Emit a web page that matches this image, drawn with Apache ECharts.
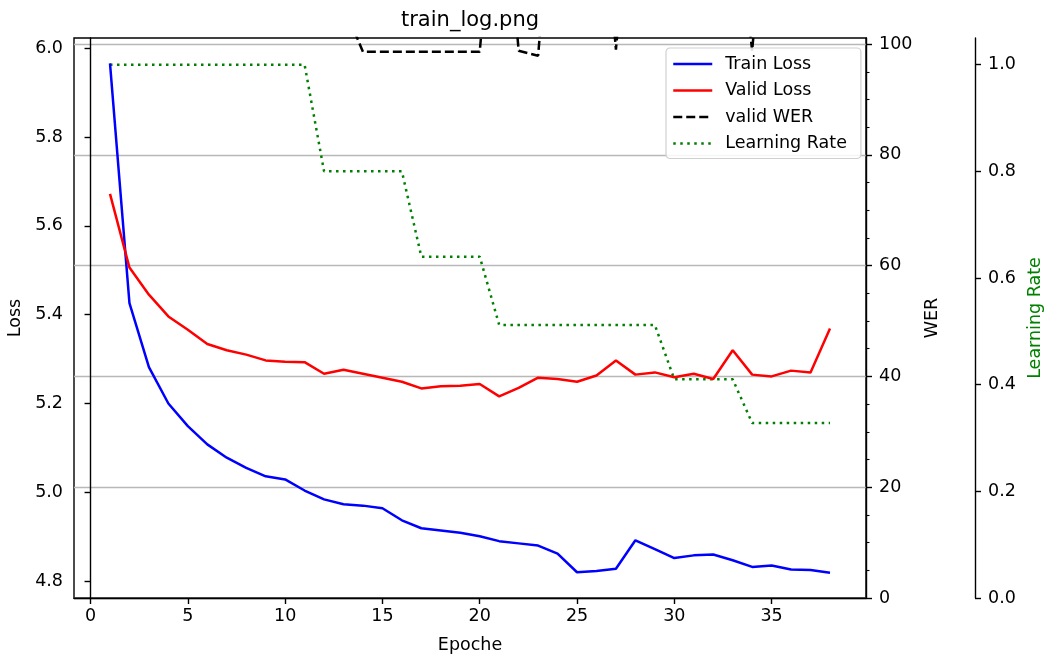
<!DOCTYPE html>
<html>
<head>
<meta charset="utf-8">
<script src="https://cdn.jsdelivr.net/npm/echarts@6/dist/echarts.min.js"></script>
<style>
  html, body { margin: 0; padding: 0; background: #fff; }
  #chart { width: 1044px; height: 657px; }
</style>
</head>
<body>
<div id="chart"></div>
<script>
// epochs on the x axis
const epochs = [1, 2, 3, 4, 5, 6, 7, 8, 9, 10, 11, 12, 13, 14, 15, 16, 17, 18, 19,
  20, 21, 22, 23, 24, 25, 26, 27, 28, 29, 30, 31, 32, 33, 34, 35, 36, 37, 38];

const trainLoss = [5.966, 5.426, 5.282, 5.200, 5.149, 5.108, 5.078, 5.055, 5.036, 5.029,
  5.004, 4.984, 4.973, 4.970, 4.964, 4.937, 4.919, 4.914, 4.909, 4.901,
  4.890, 4.885, 4.880, 4.862, 4.820, 4.823, 4.828, 4.892, 4.872, 4.852,
  4.858, 4.860, 4.847, 4.832, 4.835, 4.826, 4.825, 4.819];

const validLoss = [5.672, 5.506, 5.445, 5.396, 5.366, 5.334, 5.320, 5.310, 5.297, 5.294,
  5.293, 5.267, 5.276, 5.267, 5.258, 5.249, 5.234, 5.239, 5.240, 5.244,
  5.216, 5.235, 5.258, 5.255, 5.249, 5.263, 5.297, 5.265, 5.270, 5.259,
  5.267, 5.255, 5.320, 5.265, 5.261, 5.274, 5.270, 5.369];

// most WER points sit above the top of the plot and are clipped
const validWER = [160, 140, 128, 120, 116, 113, 111, 110, 109, 108.5,
  108, 107.5, 107, 98.6, 98.6, 98.6, 98.6, 98.6, 98.6, 98.6,
  140, 98.8, 97.9, 140, 135, 140, 99.0, 140, 135, 130,
  128, 125, 130, 98.8, 140, 135, 130, 128];

const learningRate = [1.0, 1.0, 1.0, 1.0, 1.0, 1.0, 1.0, 1.0, 1.0, 1.0,
  1.0, 0.8, 0.8, 0.8, 0.8, 0.8, 0.64, 0.64, 0.64, 0.64,
  0.512, 0.512, 0.512, 0.512, 0.512, 0.512, 0.512, 0.512, 0.512, 0.41,
  0.41, 0.41, 0.41, 0.328, 0.328, 0.328, 0.328, 0.328];

const xTicks = [0, 5, 10, 15, 20, 25, 30, 35];
const lossTicks = [4.8, 5.0, 5.2, 5.4, 5.6, 5.8, 6.0];
const werTicks = [0, 20, 40, 60, 80, 100];
const werMinorTicks = [5, 10, 15, 25, 30, 35, 45, 50, 55, 65, 70, 75, 85, 90, 95];
const lrTicks = [0, 0.2, 0.4, 0.6, 0.8, 1.0];

const font = "DejaVu Sans";
const fs = 17.5;

function pairs(ys) {
  return epochs.map((e, i) => [e, ys[i]]);
}

const chart = echarts.init(document.getElementById("chart"));

const option = {
  animation: false,
  backgroundColor: "#fff",
  textStyle: { fontFamily: font, color: "#000" },
  title: {
    text: "train_log.png",
    left: 401,
    top: 10,
    padding: 0,
    textStyle: { fontFamily: font, fontSize: 21, fontWeight: "normal", color: "#000" }
  },
  grid: {
    left: 74,
    right: 178,
    top: 38,
    bottom: 59,
    containLabel: false,
    outerBoundsMode: "none",
    show: true,
    borderColor: "#000",
    borderWidth: 1.4
  },
  legend: {
    orient: "vertical",
    left: 666,
    top: 48,
    itemWidth: 39,
    itemHeight: 14,
    itemGap: 6.5,
    padding: [6, 14, 5, 6],
    backgroundColor: "rgba(255,255,255,0.85)",
    borderColor: "#d0d0d0",
    borderWidth: 1.2,
    borderRadius: 4,
    itemStyle: { opacity: 0 },
    lineStyle: { width: 2.5 },
    textStyle: { fontFamily: font, fontSize: fs, color: "#000", lineHeight: 20, padding: [0, 0, 0, 8] },
    data: ["Train Loss", "Valid Loss", "valid WER", "Learning Rate"]
  },
  xAxis: {
    type: "value",
    min: -0.85,
    max: 39.85,
    name: "Epoche",
    nameLocation: "middle",
    nameGap: 38,
    nameTextStyle: { fontFamily: font, fontSize: fs, color: "#000" },
    axisLine: { show: true, lineStyle: { color: "#000", width: 1.4 } },
    axisTick: { show: true, length: 6, customValues: xTicks, lineStyle: { color: "#000", width: 1.4 } },
    axisLabel: { customValues: xTicks, margin: 9, fontFamily: font, fontSize: fs, color: "#000" },
    splitLine: { show: false }
  },
  yAxis: [
    {
      type: "value",
      min: 4.762,
      max: 6.023,
      position: "left",
      name: "Loss",
      nameLocation: "middle",
      nameRotate: 90,
      nameGap: 49,
      nameTextStyle: { fontFamily: font, fontSize: fs, color: "#000" },
      axisLine: { show: true, lineStyle: { color: "#000", width: 1.4 } },
      axisTick: { show: true, length: 6, customValues: lossTicks, lineStyle: { color: "#000", width: 1.4 } },
      axisLabel: {
        customValues: lossTicks, margin: 11, fontFamily: font, fontSize: fs, color: "#000",
        formatter: v => v.toFixed(1)
      },
      splitLine: { show: false }
    },
    {
      type: "value",
      min: 0,
      max: 101.1,
      position: "right",
      name: "WER",
      nameLocation: "middle",
      nameRotate: 90,
      nameGap: 56,
      nameTextStyle: { fontFamily: font, fontSize: fs, color: "#000" },
      axisLine: { show: true, lineStyle: { color: "#000", width: 1.4 } },
      axisTick: { show: true, length: 6, customValues: werTicks, lineStyle: { color: "#000", width: 1.4 } },
      axisLabel: { customValues: werTicks, margin: 13, fontFamily: font, fontSize: fs, color: "#000" },
      splitLine: { show: true, lineStyle: { color: "#b8b8b8", width: 1.4 } }
    },
    {
      type: "value",
      min: 0,
      max: 1.05,
      position: "right",
      offset: 109,
      name: "Learning Rate",
      nameLocation: "middle",
      nameRotate: 90,
      nameGap: 47,
      nameTextStyle: { fontFamily: font, fontSize: fs, color: "#008000" },
      axisLine: { show: true, lineStyle: { color: "#000", width: 1.4 } },
      axisTick: { show: true, length: 6, customValues: lrTicks, lineStyle: { color: "#000", width: 1.4 } },
      axisLabel: {
        customValues: lrTicks, margin: 13, fontFamily: font, fontSize: fs, color: "#000",
        formatter: v => v.toFixed(1)
      },
      splitLine: { show: false }
    },
    {
      // minor ticks of the WER axis
      type: "value",
      min: 0,
      max: 101.1,
      position: "right",
      axisLine: { show: false },
      axisTick: { show: true, length: 3.5, customValues: werMinorTicks, lineStyle: { color: "#000", width: 1.1 } },
      axisLabel: { show: false },
      splitLine: { show: false }
    }
  ],
  series: [
    {
      name: "Train Loss",
      type: "line",
      yAxisIndex: 0,
      data: pairs(trainLoss),
      symbol: "none",
      color: "#0000ff",
      lineStyle: { color: "#0000ff", width: 2.5 },
      z: 4
    },
    {
      name: "Valid Loss",
      type: "line",
      yAxisIndex: 0,
      data: pairs(validLoss),
      symbol: "none",
      color: "#ff0000",
      lineStyle: { color: "#ff0000", width: 2.5 },
      z: 4
    },
    {
      name: "valid WER",
      type: "line",
      yAxisIndex: 1,
      data: pairs(validWER),
      symbol: "none",
      clip: true,
      color: "#000",
      lineStyle: { color: "#000", width: 2.5, type: [9, 4] },
      z: 3
    },
    {
      name: "Learning Rate",
      type: "line",
      yAxisIndex: 2,
      data: pairs(learningRate),
      symbol: "none",
      color: "#008000",
      lineStyle: { color: "#008000", width: 2.5, type: [2.5, 4.5] },
      z: 3
    }
  ]
};

chart.setOption(option);
</script>
</body>
</html>
